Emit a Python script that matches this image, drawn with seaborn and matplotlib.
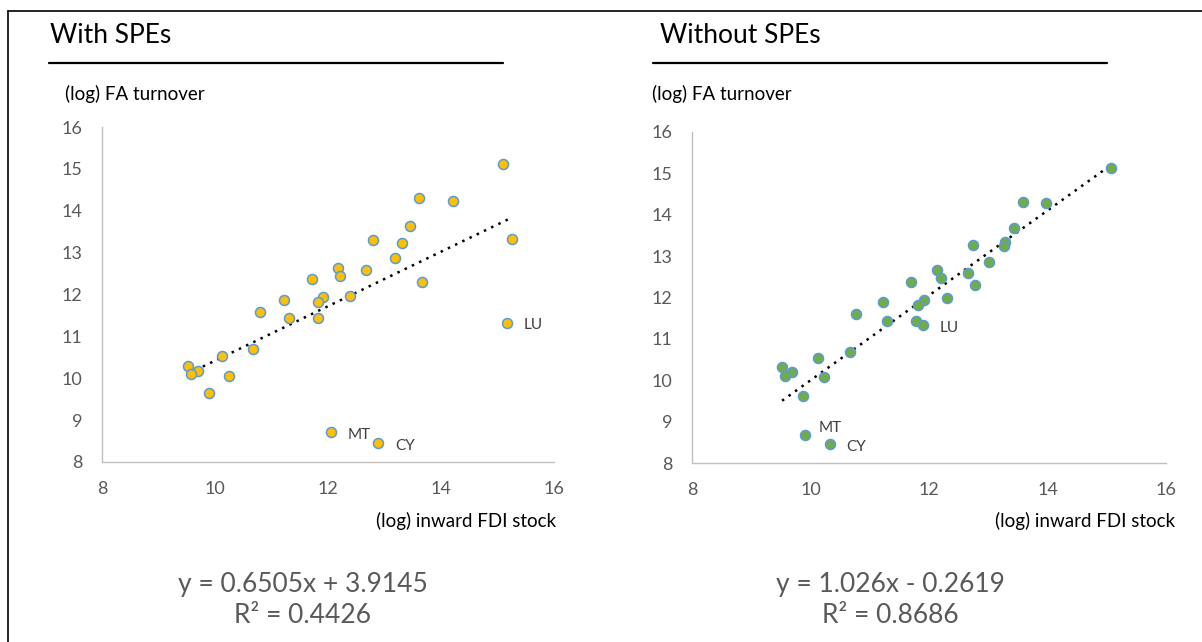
import pandas as pd
import seaborn as sns
import matplotlib.pyplot as plt
from matplotlib.lines import Line2D

# (log) inward FDI stock / (log) FA turnover, with SPEs
fdi_with = [15.09, 13.61, 14.22, 13.46, 15.26, 12.79, 13.31, 13.19, 12.18, 12.67,
            12.22, 11.72, 13.66, 11.22, 11.92, 11.82, 12.39, 10.79, 11.31, 11.82,
            15.16, 10.67, 10.12, 9.53, 9.70, 9.58, 10.24, 9.90, 12.05, 12.89]
fa_with = [15.11, 14.31, 14.24, 13.64, 13.32, 13.29, 13.22, 12.87, 12.64, 12.58,
           12.45, 12.36, 12.29, 11.87, 11.94, 11.81, 11.97, 11.58, 11.43, 11.43,
           11.33, 10.69, 10.53, 10.30, 10.18, 10.11, 10.06, 9.64, 8.71, 8.46]

# without SPEs
fdi_without = [15.07, 13.58, 13.98, 13.43, 13.29, 13.27, 12.75, 13.01, 12.14, 12.66,
               12.21, 11.69, 12.77, 11.22, 11.91, 11.81, 12.30, 10.77, 11.29, 11.78,
               11.90, 10.66, 10.12, 9.52, 9.69, 9.57, 10.23, 9.88, 9.90, 10.33]
fa_without = [15.13, 14.32, 14.28, 13.67, 13.35, 13.25, 13.28, 12.86, 12.67, 12.60,
              12.47, 12.38, 12.31, 11.89, 11.93, 11.82, 11.98, 11.60, 11.43, 11.43,
              11.34, 10.69, 10.53, 10.31, 10.20, 10.11, 10.08, 9.62, 8.68, 8.46]

point_labels = {20: "LU", 28: "MT", 29: "CY"}

trend_with = (0.6505, 3.9145, 0.4426)
trend_without = (1.026, -0.2619, 0.8686)

ticks = [8, 10, 12, 14, 16]
yticks = [8, 9, 10, 11, 12, 13, 14, 15, 16]

sns.set_theme(style="white")
plt.rcParams['font.family'] = ['Lato', 'DejaVu Sans']

W, H = 1202, 642
fig = plt.figure(figsize=(W / 100, H / 100), dpi=100)


def px(x, y):
    return x / W, 1 - y / H


def panel(rect, xs, ys, fill, trend, title, tx, ylab_x, xlab_end, eq_x, label_offsets):
    ax = fig.add_axes(rect)
    df = pd.DataFrame({"fdi": xs, "fa": ys})
    sns.scatterplot(data=df, x="fdi", y="fa", ax=ax, s=52, color=fill,
                    edgecolor="#5B9BD5", linewidth=1.1, zorder=3)
    slope, icpt, r2 = trend
    lx = [min(xs), max(xs)]
    ax.plot(lx, [slope * v + icpt for v in lx], color="black",
            linestyle=(0, (1, 2.2)), linewidth=1.8, zorder=2)
    for i, lab in point_labels.items():
        ax.annotate(lab, (xs[i], ys[i]), xytext=label_offsets.get(lab, (12, -2)),
                    textcoords="offset points", ha="left", va="center",
                    fontsize=11, color="#404040")
    ax.set_xlim(8, 16)
    ax.set_ylim(8, 16)
    ax.set_xticks(ticks)
    ax.set_yticks(yticks)
    ax.set_xlabel("")
    ax.set_ylabel("")
    ax.tick_params(length=0, labelsize=13, labelcolor="#595959", pad=14)
    for side in ["top", "right"]:
        ax.spines[side].set_visible(False)
    for side in ["left", "bottom"]:
        ax.spines[side].set_color("#BFBFBF")
        ax.spines[side].set_linewidth(1)
    # title, axis captions and trendline equation
    fig.text(*px(tx, 43), title, fontsize=19, color="black", va="baseline", ha="left")
    fig.text(*px(ylab_x, 100), "(log) FA turnover", fontsize=13.5, color="black",
             va="baseline", ha="left")
    fig.text(*px(xlab_end, 527), "(log) inward FDI stock", fontsize=13.5,
             color="black", va="baseline", ha="right")
    sign = "+" if icpt >= 0 else "-"
    fig.text(*px(eq_x, 592), f"y = {slope}x {sign} {abs(icpt)}", fontsize=19,
             color="#595959", va="baseline", ha="center")
    fig.text(*px(eq_x, 623), f"R² = {r2}", fontsize=19,
             color="#595959", va="baseline", ha="center")
    return ax


panel([102 / W, 1 - 462 / H, 452 / W, 335 / H], fdi_with, fa_with, "#FFC000",
      trend_with, "With SPEs", 50, 65, 556, 303, {})
panel([692 / W, 1 - 463 / H, 474 / W, 331 / H], fdi_without, fa_without, "#70AD47",
      trend_without, "Without SPEs", 660, 652, 1175, 890, {"MT": (10, 5)})

# underlines and frame
for x0, x1 in [(49, 503), (653, 1107)]:
    fig.add_artist(Line2D([x0 / W, x1 / W], [1 - 63 / H] * 2, color="black", linewidth=1.6))
fig.add_artist(Line2D([8 / W, 1], [1 - 11 / H] * 2, color="black", linewidth=1.2))
fig.add_artist(Line2D([8 / W, 8 / W], [1 - 11 / H, 0], color="black", linewidth=1.2))

fig.savefig("out.png", dpi=100)
